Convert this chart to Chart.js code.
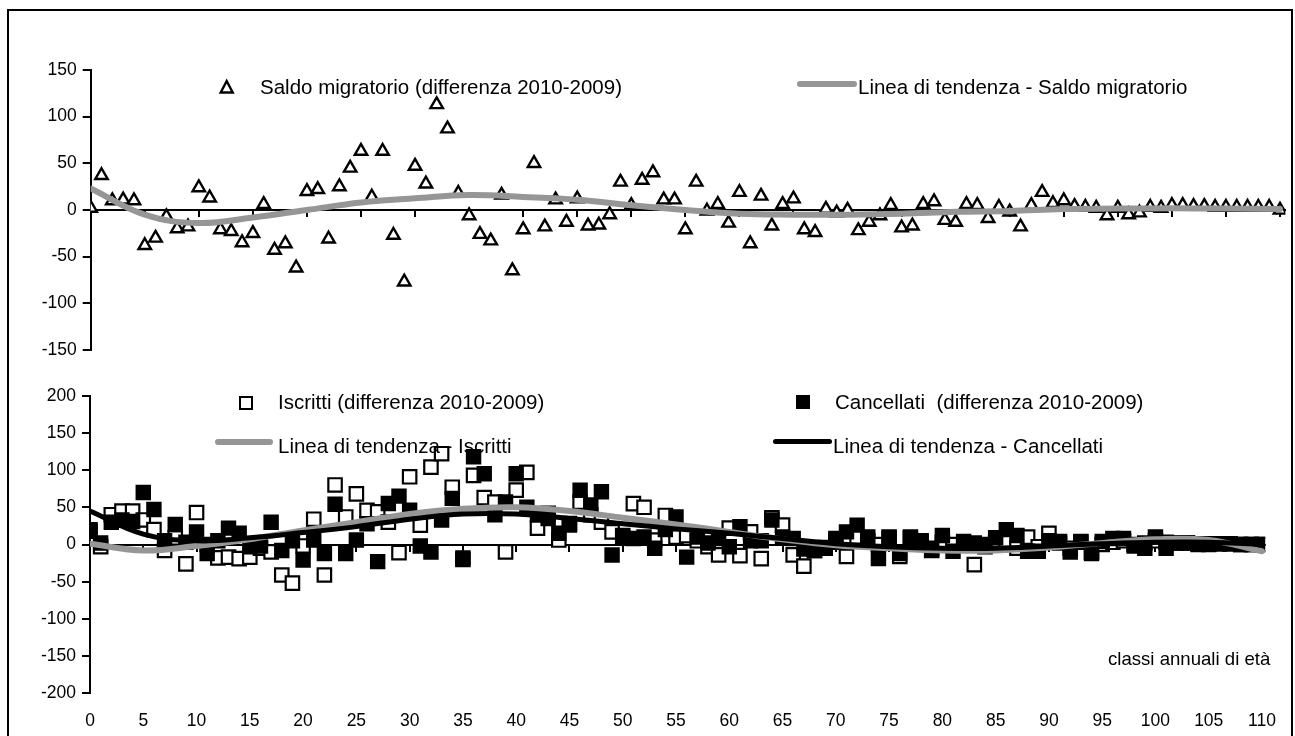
<!DOCTYPE html>
<html>
<head>
<meta charset="utf-8">
<script src="https://cdn.jsdelivr.net/npm/chart.js@4.4.1/dist/chart.umd.min.js"></script>
<style>
  body { margin: 0; background: #fff; overflow: hidden; width: 1295px; height: 736px; position: relative; font-family: 'Liberation Sans', Arial, sans-serif; }
  .frame { position: absolute; left: 7px; top: 9px; width: 1286px; height: 800px; border: 2px solid #000; box-sizing: border-box; }
  canvas { position: absolute; left: 0; }
  .lg { position: absolute; font-size: 20.5px; line-height: 20px; white-space: pre; color: #000; }
  .ln { position: absolute; border-radius: 3px; }
  .sq { position: absolute; width: 10px; height: 10px; border: 2px solid #000; }
</style>
</head>
<body>
<div class="frame"></div>
<canvas id="top" width="1295" height="380" style="top:0;width:1295px;height:380px"></canvas>
<canvas id="bottom" width="1295" height="366" style="top:370px;width:1295px;height:366px"></canvas>

<!-- legenda -->
<svg style="position:absolute;left:0;top:0" width="300" height="120">
  <polygon points="226.7,81 220.7,92.5 232.7,92.5" fill="#fff" stroke="#000" stroke-width="2.4" stroke-linejoin="miter"/>
</svg>
<div class="lg" style="left:260px;top:77.2px">Saldo migratorio (differenza 2010-2009)</div>
<div class="ln" style="left:797px;top:80.5px;width:60px;height:6px;background:#969696"></div>
<div class="lg" style="left:858px;top:77.2px">Linea di tendenza - Saldo migratorio</div>

<div class="sq" style="left:239px;top:396px;background:#fff"></div>
<div class="lg" style="left:278px;top:392.3px">Iscritti (differenza 2010-2009)</div>
<div class="sq" style="left:795.5px;top:395px;background:#000"></div>
<div class="lg" style="left:835px;top:392.3px">Cancellati  (differenza 2010-2009)</div>
<div class="ln" style="left:215px;top:438.7px;width:58px;height:6px;background:#969696"></div>
<div class="lg" style="left:278px;top:435.5px">Linea di tendenza - Iscritti</div>
<div class="ln" style="left:773px;top:438.5px;width:59px;height:5.5px;background:#000"></div>
<div class="lg" style="left:833px;top:435.5px">Linea di tendenza - Cancellati</div>
<div class="lg" style="left:1108px;top:649.5px;font-size:18.6px;line-height:18px">classi annuali di età</div>

<script>
// classi annuali di eta'
const ages = [0,1,2,3,4,5,6,7,8,9,10,11,12,13,14,15,16,17,18,19,20,21,22,23,24,25,26,27,28,29,
  30,31,32,33,34,35,36,37,38,39,40,41,42,43,44,45,46,47,48,49,50,51,52,53,54,55,56,57,58,59,
  60,61,62,63,64,65,66,67,68,69,70,71,72,73,74,75,76,77,78,79,80,81,82,83,84,85,86,87,88,89,
  90,91,92,93,94,95,96,97,98,99,100,101,102,103,104,105,106,107,108,109,110];

// saldo migratorio (differenza 2010-2009)
const saldo = [2,37,10,11,10,-38,-30,-7,-20,-18,24,13,-21,-23,-35,-25,6,-43,-36,-62,
  20,22,-31,25,45,63,14,63,-27,-77,47,28,113,87,18,-6,-26,-33,16,-65,
  -21,50,-18,11,-13,12,-17,-16,-5,30,5,32,40,11,11,-21,30,-1,6,-14,
  19,-36,15,-17,6,12,-21,-24,1,-3,0,-22,-13,-6,5,-19,-17,6,9,-11,
  -13,6,5,-9,3,-2,-18,5,19,7,10,4,3,2,-6,2,-5,-3,3,2,
  5,5,4,4,3,3,3,3,3,3,0];

// iscritti (differenza 2010-2009)
const iscritti = [18,-3,40,45,45,33,20,-8,9,-26,43,0,-18,-17,-19,-17,-5,-10,-41,-52,
  -2,34,-41,80,37,68,46,44,30,-11,91,26,104,122,77,-20,93,63,57,-10,
  73,97,22,42,6,28,57,40,30,17,12,55,50,6,39,10,12,5,-3,-14,
  22,-15,17,-19,36,26,-14,-29,-8,-5,3,-16,10,5,0,10,-16,10,5,-8,
  3,0,2,-27,-3,2,5,-5,10,-3,15,2,-5,3,-10,0,3,5,0,2,
  5,3,2,2,1,1,1,1,0,0,0];

// cancellati (differenza 2010-2009)
const cancellati = [20,2,30,33,31,70,47,5,27,3,17,-12,5,22,15,-3,-2,30,-8,5,
  -21,6,-12,54,-12,6,28,-23,55,65,46,-2,-10,33,62,-18,118,95,40,57,
  95,50,40,35,15,26,73,53,71,-14,10,8,10,-5,20,37,-17,10,2,8,
  -3,24,5,5,33,10,8,-6,-8,-4,8,17,26,10,-19,8,-12,8,4,-5,
  12,-9,4,2,0,9,20,12,-9,-9,5,4,-10,4,-12,4,8,8,-2,-5,
  10,-5,2,2,0,0,1,1,0,0,0];

// linee di tendenza lette ogni 5 anni
const trendAges = [0,5,10,15,20,25,30,35,40,45,50,55,60,65,70,75,80,85,90,95,100,105,110];
const trendSaldo = [23,-5,-14,-8,0,8,12.5,16,14,11,5,0,-4,-5,-5,-4,-2,-1,1,1.5,2,1.5,1];
const trendIscritti = [1,-8,-2,7,19,30,41,48,50,45,36,27,17,7,-1,-5,-8,-8,-4,2,7,6,-9];
const trendCancellati = [45,14,5,9,16,24,34,41,41,35,28,21,15,8,1,-3,-5,-5,-2,1,3,3,0];

const yTopTicks = [-150,-100,-50,0,50,100,150];
const yBottomTicks = [-200,-150,-100,-50,0,50,100,150,200];

Chart.defaults.font.family = "'Liberation Sans', Arial, sans-serif";
Chart.defaults.font.size = 17.5;
Chart.defaults.color = '#000';

function pts(xs, ys) { return xs.map((a, i) => ({x: a, y: ys[i]})); }

function yAxis(ticksList, width) {
  return {
    type: 'linear',
    position: 'left',
    min: ticksList[0],
    max: ticksList[ticksList.length - 1],
    afterBuildTicks: (s) => { s.ticks = ticksList.map(v => ({value: v})); },
    ticks: { padding: 6, callback: (v) => String(v) },
    grid: { drawOnChartArea: false, color: '#000', lineWidth: 2, tickLength: 8 },
    border: { color: '#000', width: 2 },
    afterFit: (s) => { s.width = width; s.paddingTop = 0; s.paddingBottom = 0; }
  };
}

function zeroAxis(maxX) {
  return {
    type: 'linear',
    axis: 'x',
    position: { y: 0 },
    min: 0, max: maxX,
    ticks: { stepSize: 5, autoSkip: false, includeBounds: false, callback: () => '' },
    grid: { drawOnChartArea: false, color: '#000', lineWidth: 2, tickLength: 6 },
    border: { color: '#000', width: 2 },
    afterFit: (s) => { s.paddingLeft = 0; s.paddingRight = 0; }
  };
}

const common = {
  animation: false,
  responsive: false,
  plugins: { legend: { display: false }, tooltip: { enabled: false } },
};

new Chart(document.getElementById('top'), {
  type: 'scatter',
  data: {
    datasets: [
      { type: 'line', label: 'Linea di tendenza - Saldo migratorio', data: pts(trendAges, trendSaldo),
        borderColor: '#969696', borderWidth: 6, pointRadius: 0, tension: 0.4, fill: false,
        borderCapStyle: 'round', borderJoinStyle: 'round', order: 0 },
      { label: 'Saldo migratorio (differenza 2010-2009)', data: pts(ages, saldo),
        pointStyle: 'triangle', pointRadius: 7.2, backgroundColor: '#fff', borderColor: '#000',
        borderWidth: 2.4, order: 1 }
    ]
  },
  options: Object.assign({}, common, {
    layout: { padding: { top: 70, bottom: 30, left: 0, right: 9.3 } },
    scales: {
      x: zeroAxis(110.5),
      y: yAxis(yTopTicks, 90.7)
    }
  })
});

const xb = {
  type: 'linear',
  axis: 'x',
  position: 'bottom',
  min: 0, max: 110.3,
  ticks: { stepSize: 5, autoSkip: false, includeBounds: false, maxRotation: 0, padding: 17 },
  grid: { display: false, drawTicks: false },
  border: { display: false },
  afterFit: (s) => { s.height = 42.7; s.paddingLeft = 0; s.paddingRight = 0; }
};

new Chart(document.getElementById('bottom'), {
  type: 'scatter',
  data: {
    datasets: [
      { type: 'line', label: 'Linea di tendenza - Cancellati', data: pts(trendAges, trendCancellati),
        borderColor: '#000', borderWidth: 5, pointRadius: 0, tension: 0.4, fill: false,
        borderCapStyle: 'round', xAxisID: 'x', order: 0 },
      { type: 'line', label: 'Linea di tendenza - Iscritti', data: pts(trendAges, trendIscritti),
        borderColor: '#969696', borderWidth: 6, pointRadius: 0, tension: 0.4, fill: false,
        borderCapStyle: 'round', xAxisID: 'x', order: 1 },
      { label: 'Cancellati  (differenza 2010-2009)', data: pts(ages, cancellati),
        pointStyle: 'rect', pointRadius: 9.5, backgroundColor: '#000', borderColor: '#000',
        borderWidth: 2, xAxisID: 'x', order: 2 },
      { label: 'Iscritti (differenza 2010-2009)', data: pts(ages, iscritti),
        pointStyle: 'rect', pointRadius: 9.5, backgroundColor: '#fff', borderColor: '#000',
        borderWidth: 2.2, xAxisID: 'x', order: 3 }
    ]
  },
  options: Object.assign({}, common, {
    layout: { padding: { top: 25.7, bottom: 0, left: 0, right: 29.8 } },
    scales: {
      x: zeroAxis(110.3),
      xb: xb,
      y: yAxis(yBottomTicks, 90)
    }
  })
});
</script>
</body>
</html>
